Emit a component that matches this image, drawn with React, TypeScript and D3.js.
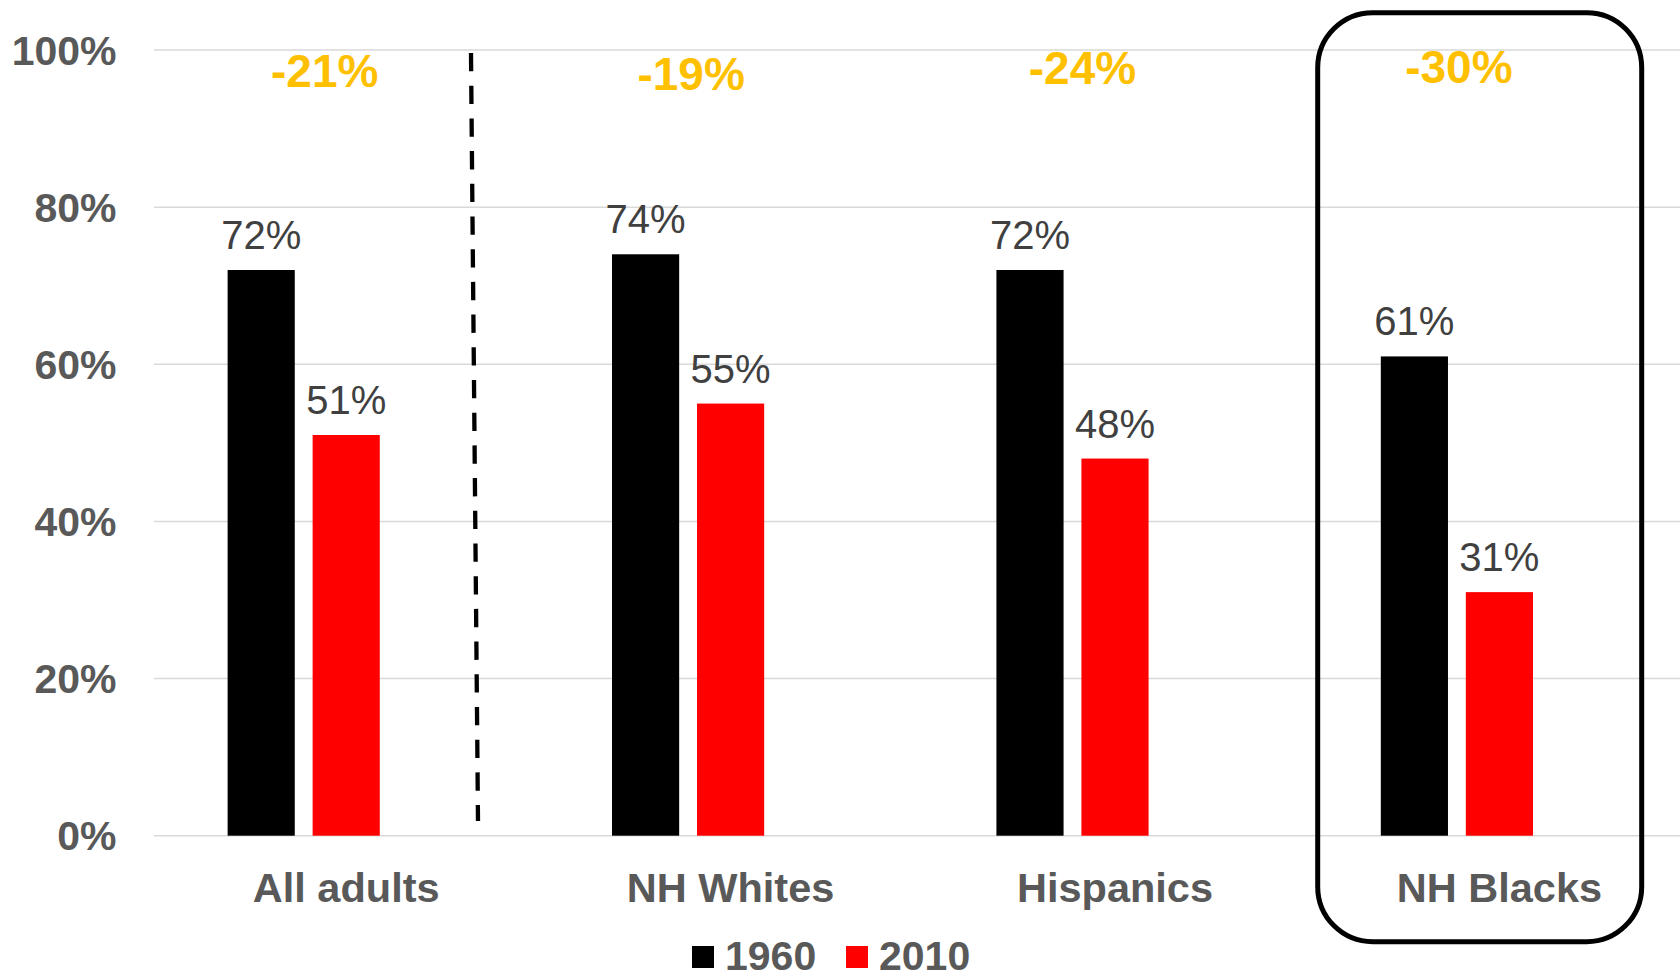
import React from "react";
import * as d3 from "d3";

const categories = ["All adults", "NH Whites", "Hispanics", "NH Blacks"];
const series = ["1960", "2010"];
const values1960 = [72, 74, 72, 61];
const values2010 = [51, 55, 48, 31];
const yTicks = [0, 20, 40, 60, 80, 100];

const W = 1680;
const H = 977;
const FONT = "'Liberation Sans', Arial, Helvetica, sans-serif";
const seriesColors = ["#000000", "#ff0000"];
// manual layout nudges for the change annotations (px from bar-pair centre, baseline y)
const diffDx = [21, 3, 10, 2];
const diffBaseline = [87, 90, 84, 83];

export default function App() {
  const plotLeft = 154;
  const band = 384.4;
  const x = d3
    .scaleBand<string>()
    .domain(categories)
    .range([plotLeft, plotLeft + band * categories.length])
    .paddingInner(0)
    .paddingOuter(0);
  const inner = d3
    .scaleBand<string>()
    .domain([...series, "spacer"])
    .range([0, x.bandwidth()])
    .paddingInner(0.21)
    .paddingOuter(0.866);
  const y = d3.scaleLinear().domain([0, 100]).range([835.7, 50]);

  const rows = categories.map((c, i) => ({
    cat: c,
    vals: [values1960[i], values2010[i]],
    diff: values2010[i] - values1960[i],
  }));

  const boxCat = "NH Blacks";
  const bx0 = (x(boxCat) as number) + 10.5;

  return (
    <div style={{ position: "absolute", left: 0, top: 0 }}>
      <svg width={W} height={H} style={{ display: "block", background: "#fff" }} fontFamily={FONT}>
        {/* gridlines */}
        {yTicks.map((t) => (
          <line key={t} x1={plotLeft} x2={W} y1={y(t)} y2={y(t)} stroke="#d9d9d9" strokeWidth={1.5} />
        ))}
        {/* y labels */}
        {yTicks.map((t) => (
          <text
            key={"yl" + t}
            x={116.5}
            y={y(t)}
            dy="0.36em"
            textAnchor="end"
            fontSize={41}
            fontWeight="bold"
            fill="#595959"
          >
            {t + "%"}
          </text>
        ))}
        {/* bars */}
        {rows.map((r) =>
          r.vals.map((v, j) => {
            const bx = (x(r.cat) as number) + (inner(series[j]) as number);
            return (
              <g key={r.cat + j}>
                <rect x={bx} y={y(v)} width={inner.bandwidth()} height={y(0) - y(v)} fill={seriesColors[j]} />
                <text
                  x={bx + inner.bandwidth() / 2}
                  y={y(v) - 21}
                  textAnchor="middle"
                  fontSize={40}
                  fill="#404040"
                >
                  {v + "%"}
                </text>
              </g>
            );
          })
        )}
        {/* change annotations */}
        {rows.map((r, i) => {
          const b0 = (x(r.cat) as number) + (inner(series[0]) as number);
          const b1 = (x(r.cat) as number) + (inner(series[1]) as number) + inner.bandwidth();
          return (
            <text
              key={"d" + r.cat}
              x={(b0 + b1) / 2 + diffDx[i]}
              y={diffBaseline[i]}
              textAnchor="middle"
              fontSize={46}
              fontWeight="bold"
              fill="#ffc000"
            >
              {r.diff + "%"}
            </text>
          );
        })}
        {/* category labels */}
        {categories.map((c) => (
          <text
            key={"c" + c}
            x={(x(c) as number) + x.bandwidth() / 2}
            y={901.5}
            textAnchor="middle"
            fontSize={41.5}
            fontWeight="bold"
            fill="#595959"
          >
            {c}
          </text>
        ))}
        {/* dashed separator */}
        <line x1={471} y1={53} x2={478} y2={821} stroke="#000" strokeWidth={4.3} strokeDasharray="18.3 14.4" />
        {/* highlight box */}
        <rect
          x={bx0}
          y={12.7}
          width={324}
          height={929}
          rx={55}
          ry={55}
          fill="none"
          stroke="#000"
          strokeWidth={5}
        />
        {/* legend */}
        {series.map((s, j) => {
          const lx = [692, 846][j];
          return (
            <g key={"lg" + s}>
              <rect x={lx} y={946} width={22} height={22} fill={seriesColors[j]} />
              <text x={lx + 33} y={970} fontSize={41} fontWeight="bold" fill="#595959">
                {s}
              </text>
            </g>
          );
        })}
      </svg>
    </div>
  );
}
